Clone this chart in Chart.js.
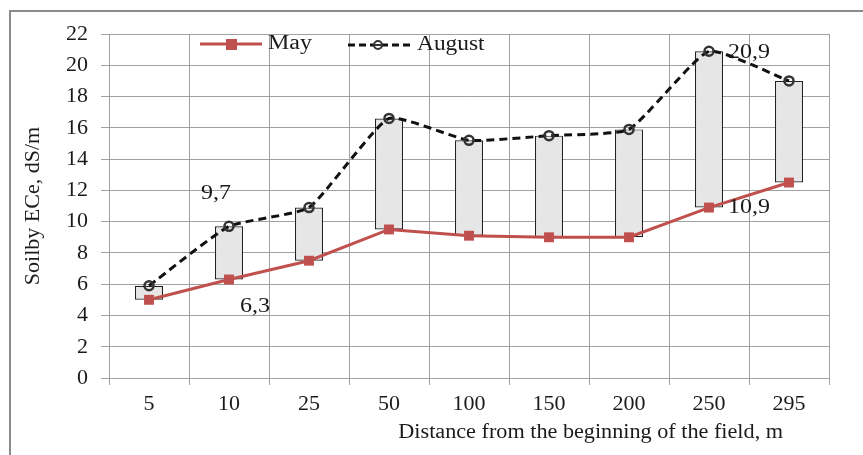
<!DOCTYPE html>
<html>
<head>
<meta charset="utf-8">
<script src="https://cdn.jsdelivr.net/npm/chart.js@4.4.1/dist/chart.umd.min.js"></script>
<style>
  body { margin: 0; background: #fff; }
  #frame { position: absolute; left: 9px; top: 10px; width: 900px; height: 500px; border: 2px solid #8c8c8c; }
  #wrap { position: absolute; left: 0; top: 0; width: 863px; height: 455px; }
</style>
</head>
<body>
<div id="frame"></div>
<div id="wrap"><canvas id="salinityChart" width="863" height="455"></canvas></div>
<script>
// datos
const categories = ['5', '10', '25', '50', '100', '150', '200', '250', '295'];
const mayValues = [5.0, 6.3, 7.5, 9.5, 9.1, 9.0, 9.0, 10.9, 12.5];
const augustValues = [5.9, 9.7, 10.9, 16.6, 15.2, 15.5, 15.9, 20.9, 19.0];
const yMin = 0, yMax = 22, yStep = 2;

// etiquetas de valores: [serie, indice, dx, dy, alineacion]
const valueLabels = [
    ['August', 1, -13, -33, 'center'],
    ['May', 1, 26, 27, 'center'],
    ['August', 7, 19, 2, 'left'],
    ['May', 7, 19, 0, 'left']
];

const serif = "'Liberation Serif', 'Times New Roman', serif";
const red = '#c0504d';
const ink = '#1a1a1a';

const rangeBars = categories.map((c, i) => [mayValues[i], augustValues[i]]);

// el texto del original esta algo estirado en horizontal
function wideText(ctx, text, x, y, align, sx) {
    ctx.save();
    ctx.translate(x, y);
    ctx.scale(sx, 1);
    ctx.textAlign = align;
    ctx.fillText(text, 0, 0);
    ctx.restore();
}

const extras = {
    id: 'extras',
    afterDatasetsDraw(chart) {
        const ctx = chart.ctx;
        ctx.save();
        ctx.font = '20px ' + serif;
        ctx.fillStyle = ink;
        ctx.textBaseline = 'middle';

        // etiquetas de valores
        valueLabels.forEach(([name, idx, dx, dy, align]) => {
            const dsIndex = chart.data.datasets.findIndex(d => d.label === name);
            const pt = chart.getDatasetMeta(dsIndex).data[idx];
            const v = chart.data.datasets[dsIndex].data[idx];
            wideText(ctx, v.toFixed(1).replace('.', ','), pt.x + dx, pt.y + dy, align, 1.2);
        });

        // leyenda
        const y = 44;
        ctx.lineWidth = 3;
        ctx.strokeStyle = red;
        ctx.beginPath(); ctx.moveTo(200, y); ctx.lineTo(262, y); ctx.stroke();
        ctx.fillStyle = red;
        ctx.fillRect(226, y - 5, 11, 11);
        ctx.strokeStyle = '#111';
        ctx.setLineDash([7, 4]);
        ctx.beginPath(); ctx.moveTo(348, y + 1); ctx.lineTo(410, y + 1); ctx.stroke();
        ctx.setLineDash([]);
        ctx.lineWidth = 2;
        ctx.strokeStyle = '#333';
        ctx.fillStyle = '#fff';
        ctx.beginPath(); ctx.arc(378, y + 1, 4, 0, Math.PI * 2); ctx.fill(); ctx.stroke();
        ctx.beginPath(); ctx.moveTo(374, y + 1); ctx.lineTo(382, y + 1); ctx.stroke();
        ctx.fillStyle = ink;
        wideText(ctx, chart.data.datasets[0].label, 268, y, 'left', 1.2);
        wideText(ctx, chart.data.datasets[1].label, 417, y + 1, 'left', 1.17);

        // titulo del eje x
        ctx.textBaseline = 'alphabetic';
        wideText(ctx, 'Distance from the beginning of the field, m', 783, 438, 'right', 1.11);
        ctx.restore();
    }
};

const config = {
    type: 'bar',
    data: {
        labels: categories,
        datasets: [
            {
                type: 'line',
                label: 'May',
                data: mayValues,
                borderColor: red,
                backgroundColor: red,
                borderWidth: 3,
                pointStyle: 'rect',
                pointRadius: 7,
                pointBorderWidth: 0,
                tension: 0,
                order: 1
            },
            {
                type: 'line',
                label: 'August',
                data: augustValues,
                borderColor: '#111',
                borderWidth: 3,
                borderDash: [8, 5],
                pointStyle: 'circle',
                pointRadius: 4.5,
                pointBorderWidth: 2.5,
                pointBorderColor: '#333',
                pointBackgroundColor: 'rgba(255,255,255,0)',
                tension: 0.15,
                order: 2
            },
            {
                label: 'range',
                data: rangeBars,
                backgroundColor: '#e6e6e6',
                borderColor: '#222',
                borderWidth: 1.2,
                borderSkipped: false,
                categoryPercentage: 1,
                barPercentage: 0.35,
                order: 3
            }
        ]
    },
    options: {
        responsive: false,
        animation: false,
        layout: { padding: { left: 0, top: 34, right: 34, bottom: 0 } },
        plugins: {
            legend: { display: false },
            tooltip: { enabled: false }
        },
        scales: {
            x: {
                grid: { color: '#a0a0a0', lineWidth: 1, offset: true, tickLength: 7 },
                border: { color: '#a0a0a0' },
                ticks: { color: ink, font: { family: serif, size: 22 }, padding: 6 },
                afterFit(scale) { scale.height = 77; }
            },
            y: {
                min: yMin,
                max: yMax,
                ticks: { stepSize: yStep, color: ink, font: { family: serif, size: 22 }, padding: 13 },
                grid: { color: '#a0a0a0', lineWidth: 1, tickLength: 8 },
                border: { color: '#a0a0a0' },
                title: {
                    display: true,
                    text: 'Soilby ECe, dS/m',
                    color: ink,
                    font: { family: serif, size: 22 },
                    padding: { top: 20, bottom: 0 }
                },
                afterFit(scale) { scale.width = 109; }
            }
        }
    },
    plugins: [extras]
};

new Chart(document.getElementById('salinityChart'), config);
</script>
</body>
</html>
